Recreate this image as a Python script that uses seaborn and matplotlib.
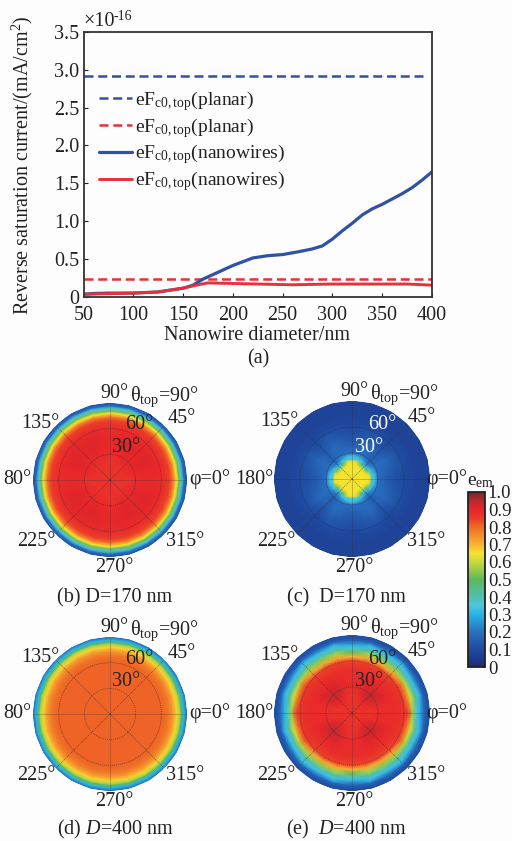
import numpy as np
import pandas as pd
import matplotlib
matplotlib.use("Agg")
import matplotlib.pyplot as plt
from matplotlib.colors import LinearSegmentedColormap
from matplotlib.cm import ScalarMappable
import seaborn as sns

#values
diameter_blue = [50, 60, 75, 100, 125, 140, 150, 160, 170, 180, 190, 200, 210, 220, 235, 250, 265,
                 280, 290, 300, 310, 320, 330, 340, 350, 360, 370, 380, 390, 400]
current_blue = [0.03, 0.04, 0.045, 0.045, 0.06, 0.09, 0.11, 0.15, 0.23, 0.29, 0.35, 0.41, 0.46,
                0.51, 0.54, 0.555, 0.59, 0.63, 0.67, 0.76, 0.87, 0.97, 1.08, 1.16, 1.22, 1.29,
                1.36, 1.44, 1.54, 1.65]
diameter_red = [50, 100, 125, 140, 150, 165, 175, 190, 225, 260, 300, 350, 375, 400]
current_red = [0.03, 0.045, 0.06, 0.09, 0.11, 0.155, 0.18, 0.175, 0.165, 0.155, 0.165, 0.165, 0.165, 0.15]
diameter_planar_blue = [50, 391]
current_planar_blue = [2.92, 2.92]
diameter_planar_red = [50, 400]
current_planar_red = [0.235, 0.235]

x_ticks = [50, 100, 150, 200, 250, 300, 350, 400]
y_ticks = [0, 0.5, 1.0, 1.5, 2.0, 2.5, 3.0, 3.5]
y_tick_labels = ["0", "0.5", "1.0", "1.5", "2.0", "2.5", "3.0", "3.5"]
cbar_ticks = [0, 0.1, 0.2, 0.3, 0.4, 0.5, 0.6, 0.7, 0.8, 0.9, 1.0]
cbar_tick_labels = ["0", "0.1", "0.2", "0.3", "0.4", "0.5", "0.6", "0.7", "0.8", "0.9", "1.0"]

#emissivity maps: rows are phi 0,15,...,90 deg, columns are theta_top
theta_nodes = [0, 10, 15, 20, 23, 26, 30, 40, 50, 60, 65, 70, 75, 78, 81, 84, 87, 90]
phi_nodes = [0, 15, 30, 45, 60, 75, 90]

em_b = [
    [.87, .87, .87, .87, .87, .87, .88, .89, .89, .88, .87, .84, .75, .65, .52, .36, .20, .12],
    [.87, .87, .87, .87, .88, .88, .89, .90, .90, .89, .87, .84, .75, .65, .52, .36, .20, .12],
    [.87, .87, .87, .88, .89, .89, .90, .91, .91, .89, .87, .84, .75, .65, .52, .36, .20, .12],
    [.87, .87, .87, .87, .88, .88, .89, .90, .90, .89, .87, .84, .75, .65, .52, .36, .20, .12],
    [.87, .87, .87, .88, .89, .89, .90, .91, .91, .89, .87, .84, .75, .65, .52, .36, .20, .12],
    [.87, .87, .87, .87, .88, .88, .89, .90, .90, .89, .87, .84, .75, .65, .52, .36, .20, .12],
    [.87, .87, .87, .87, .87, .87, .88, .89, .89, .88, .87, .84, .75, .65, .52, .36, .20, .12],
]
em_c = [
    [.65, .65, .65, .64, .38, .35, .20, .15, .12, .10, .09, .09, .08, .08, .08, .08, .08, .08],
    [.65, .65, .65, .64, .37, .33, .20, .17, .14, .11, .10, .09, .08, .08, .08, .08, .08, .08],
    [.65, .65, .65, .50, .35, .25, .19, .19, .16, .12, .10, .09, .08, .08, .08, .08, .08, .08],
    [.65, .65, .64, .36, .24, .18, .16, .15, .12, .10, .09, .09, .08, .08, .08, .08, .08, .08],
    [.65, .65, .65, .50, .35, .25, .19, .19, .16, .12, .10, .09, .08, .08, .08, .08, .08, .08],
    [.65, .65, .65, .64, .37, .33, .20, .17, .14, .11, .10, .09, .08, .08, .08, .08, .08, .08],
    [.65, .65, .65, .64, .38, .35, .20, .15, .12, .10, .09, .09, .08, .08, .08, .08, .08, .08],
]
em_d = [
    [.805, .805, .805, .805, .805, .805, .805, .805, .805, .805, .80, .77, .72, .67, .60, .48, .30, .18],
    [.805, .805, .805, .805, .805, .805, .805, .805, .805, .805, .80, .77, .72, .67, .60, .48, .30, .18],
    [.805, .805, .805, .805, .805, .805, .805, .805, .805, .805, .80, .77, .72, .67, .60, .48, .30, .18],
    [.805, .805, .805, .805, .805, .805, .805, .805, .805, .805, .80, .77, .72, .67, .60, .48, .30, .18],
    [.805, .805, .805, .805, .805, .805, .805, .805, .805, .805, .80, .77, .72, .67, .60, .48, .30, .18],
    [.805, .805, .805, .805, .805, .805, .805, .805, .805, .805, .80, .77, .72, .67, .60, .48, .30, .18],
    [.805, .805, .805, .805, .805, .805, .805, .805, .805, .805, .80, .77, .72, .67, .60, .48, .30, .18],
]
em_e = [
    [.87, .87, .87, .87, .87, .87, .88, .88, .88, .87, .84, .55, .36, .30, .22, .17, .13, .11],
    [.87, .87, .87, .87, .88, .88, .89, .89, .88, .86, .78, .62, .44, .36, .31, .18, .13, .11],
    [.87, .87, .88, .90, .91, .92, .92, .91, .88, .86, .80, .58, .40, .33, .24, .17, .13, .11],
    [.87, .87, .88, .90, .92, .93, .94, .90, .88, .84, .72, .57, .42, .35, .31, .18, .13, .11],
    [.87, .87, .88, .90, .91, .92, .92, .91, .88, .84, .72, .55, .38, .33, .24, .17, .13, .11],
    [.87, .87, .87, .87, .88, .88, .89, .89, .88, .84, .72, .58, .42, .36, .31, .18, .13, .11],
    [.87, .87, .87, .87, .87, .87, .88, .88, .88, .84, .70, .50, .36, .30, .22, .17, .13, .11],
]

emm_colors = ["#1c2a78", "#1f4aa0", "#2a70c0", "#28b4e6", "#4cc4dc", "#50c0b0", "#5cb85c",
              "#c8d83c", "#f5e52d", "#f9b233", "#ef6b25", "#ec3a2a", "#e8262a", "#b82a30", "#7c2226"]
emm_stops = [0, 0.1, 0.2, 0.3, 0.35, 0.4, 0.5, 0.6, 0.65, 0.7, 0.8, 0.85, 0.9, 0.95, 1.0]

#text next to each map, offset in pixels from the map centre
left_labels = [("90°", 4, -87), ("135°", -70, -57), ("45°", 72, -61), ("80°", -93, 0),
               ("φ=0°", 100, -1), ("225°", -74, 62), ("315°", 75, 62), ("270°", 4, 88)]
right_labels = [("90°", 2, -87), ("135°", -73, -57), ("45°", 70, -61), ("180°", -98, 0),
                ("φ=0°", 95, 0), ("225°", -76, 62), ("315°", 74, 62), ("270°", 2, 88)]

W, H = 512, 841
FS = 14.5
BG = "#fdfdfd"
INK = "#222222"
BLUE = "#2f52a6"
RED = "#e8303a"

sns.set_theme(style="ticks")
plt.rcParams.update({
    "font.family": ["Liberation Serif", "DejaVu Serif"],
    "font.size": FS,
    "mathtext.fontset": "custom",
    "mathtext.rm": "Liberation Serif",
    "mathtext.it": "Liberation Serif:italic",
    "text.color": INK,
    "axes.labelcolor": INK,
    "xtick.color": INK,
    "ytick.color": INK,
    "figure.facecolor": BG,
    "axes.facecolor": BG,
    "savefig.facecolor": BG,
})


def px_rect(left, top, right, bottom):
    return [left / W, 1 - bottom / H, (right - left) / W, (bottom - top) / H]


def px_text(x, y, s, **kw):
    kw.setdefault("ha", "center")
    kw.setdefault("va", "center")
    kw.setdefault("fontsize", FS)
    fig.text(x / W, 1 - y / H, s, **kw)


fig = plt.figure(figsize=(W / 100, H / 100), dpi=100)

#%%
#panel a: line chart
ax = fig.add_axes(px_rect(83.5, 32, 432, 296.5))
DASH = (0, (3.6, 1.9))
sns.lineplot(x=diameter_planar_blue, y=current_planar_blue, ax=ax, color=BLUE, lw=1.8,
             linestyle=DASH, label=r"eF$_{\mathrm{c0,top}}$(planar)")
sns.lineplot(x=diameter_planar_red, y=current_planar_red, ax=ax, color=RED, lw=1.8,
             linestyle=DASH, label=r"eF$_{\mathrm{c0,top}}$(planar)")
sns.lineplot(x=diameter_blue, y=current_blue, ax=ax, color=BLUE, lw=2.3,
             label=r"eF$_{\mathrm{c0,top}}$(nanowires)")
sns.lineplot(x=diameter_red, y=current_red, ax=ax, color=RED, lw=2.1,
             label=r"eF$_{\mathrm{c0,top}}$(nanowires)")
ax.set_xlim(50, 400)
ax.set_ylim(0, 3.5)
ax.set_xticks(x_ticks)
ax.set_yticks(y_ticks)
ax.set_yticklabels(y_tick_labels)
ax.tick_params(direction="in", length=3, width=0.8, labelsize=FS, pad=3)
ax.tick_params(axis="x", pad=7)
for s in ax.spines.values():
    s.set_linewidth(1.3)
    s.set_color("#333333")
ax.legend(loc="upper left", bbox_to_anchor=(0.045, 0.785), frameon=False, fontsize=14,
          labelspacing=0.15, handlelength=1.7, handletextpad=0.15, borderpad=0, borderaxespad=0)
ax.set_xlabel("")
ax.set_ylabel("")
px_text(22, 165, r"Reverse saturation current/(mA/cm$^{2}$)", rotation=90)
px_text(257, 336, "Nanowire diameter/nm")
px_text(258, 359, "(a)")
px_text(83, 21, "×10", ha="left")
px_text(113, 17, "-16", ha="left", fontsize=10)

#%%
#polar maps
cmap = LinearSegmentedColormap.from_list("emm", list(zip(emm_stops, emm_colors)))


def expand(quadrant):
    q = np.array(quadrant)
    half = np.vstack([q, q[::-1][1:]])
    return np.vstack([half, half[1:]])


def draw_map(em, cx, cy, r, labels, thetas, inner_color, caption, cap_x, cap_y):
    pol = fig.add_axes(px_rect(cx - r, cy - r, cx + r, cy + r), projection="polar")
    vals = expand(em)
    phi = np.deg2rad(np.arange(vals.shape[0]) * (phi_nodes[1] - phi_nodes[0]))
    T, P = np.meshgrid(theta_nodes, phi)
    pol.pcolormesh(P, T, vals, cmap=cmap, vmin=0, vmax=1, shading="gouraud")
    pol.set_rlim(0, 90)
    pol.set_rticks([30, 60])
    pol.set_yticklabels([])
    pol.set_thetagrids(range(0, 360, 45), labels=[])
    pol.grid(True, color="#2a2a3a", lw=0.6, ls=(0, (1.2, 1.2)), alpha=0.6)
    pol.set_axisbelow(False)
    pol.spines["polar"].set_visible(False)
    pol.set_facecolor("none")
    for s, dx, dy in labels:
        px_text(cx + dx, cy + dy, s)
    px_text(cx + thetas[0], cy + thetas[1], r"θ$_{\mathrm{top}}$=90°")
    px_text(cx + thetas[2], cy + thetas[3], "60°", color=inner_color)
    px_text(cx + thetas[4], cy + thetas[5], "30°", color=inner_color)
    px_text(cap_x, cap_y, caption)


left_inner = (54, -83, 29, -55, 16, -33)
right_inner = (52, -84, 30, -54, 17, -32)
draw_map(em_b, 110, 480, 77, left_labels, left_inner, INK, "(b) D=170 nm", 115, 598)
draw_map(em_c, 352, 479, 78, right_labels, right_inner, "white", "(c)  D=170 nm", 346, 598)
draw_map(em_d, 110, 714, 77, left_labels, left_inner, INK, r"(d) $\mathit{D}$=400 nm", 115, 829)
draw_map(em_e, 352, 713, 78, right_labels, right_inner, INK, r"(e)  $\mathit{D}$=400 nm", 346, 829)

#%%
#colorbar
cax = fig.add_axes(px_rect(468, 492, 485, 667))
cb = fig.colorbar(ScalarMappable(cmap=cmap, norm=plt.Normalize(0, 1)), cax=cax)
cb.set_ticks(cbar_ticks)
cb.set_ticklabels(cbar_tick_labels)
cb.ax.tick_params(direction="in", length=2, width=0.6, labelsize=13.5, pad=2)
cb.outline.set_linewidth(1.3)
cb.outline.set_edgecolor("#222222")
px_text(481, 481, r"e$_{\mathrm{em}}$", fontsize=14)

fig.savefig("out.png", dpi=100)
